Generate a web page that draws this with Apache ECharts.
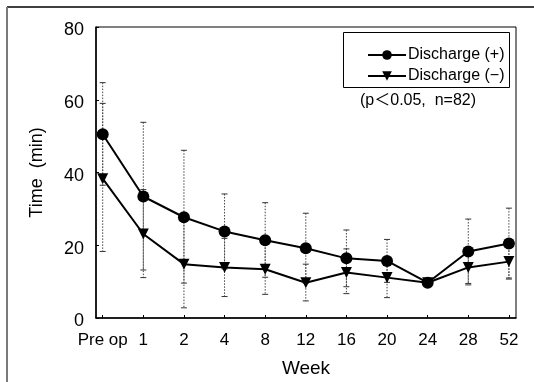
<!DOCTYPE html>
<html>
<head>
<meta charset="utf-8">
<script src="https://cdn.jsdelivr.net/npm/echarts@6/dist/echarts.min.js"></script>
<style>
html,body{margin:0;padding:0;background:#fff;}
#chart{width:534px;height:382px;}
</style>
</head>
<body>
<div id="chart"></div>
<script>
const categories = ['Pre op', '1', '2', '4', '8', '12', '16', '20', '24', '28', '52'];
const plusMean  = [50.5, 33.4, 27.7, 23.8, 21.4, 19.2, 16.4, 15.7, 9.7, 18.3, 20.5];
const minusMean = [38.3, 23.1, 14.8, 13.9, 13.4, 9.7, 12.5, 11.1, 9.7, 13.9, 15.5];
const plusHigh  = [64.7, 53.8, 46.1, 34.1, 31.7, 28.8, 24.2, 21.6, null, 27.2, 30.2];
const plusLow   = [36.5, 13.2, 9.6, 13.5, 11.2, 9.6, 8.6, 9.8, null, 9.1, 10.7];
const minusHigh = [59.0, 35.3, 26.5, 21.9, 20.3, 14.8, 19.0, 16.8, null, 18.5, 20.2];
const minusLow  = [18.3, 11.1, 2.8, 5.9, 6.5, 4.7, 6.7, 5.6, null, 9.5, 11.0];
const yTicks = [0, 20, 40, 60, 80];

const FONT = 'Liberation Sans';
const idx = categories.map((c, i) => i);

function pairs(vals) { return vals.map((v, i) => [i, v]); }
function errData(hi, lo) {
  const out = [];
  hi.forEach((h, i) => { if (h != null && lo[i] != null) out.push([i, h, lo[i]]); });
  return out;
}
function errRender(params, api) {
  const x = api.value(0);
  const top = api.coord([x, api.value(1)]);
  const bot = api.coord([x, api.value(2)]);
  const cw = 3;
  return {
    type: 'group',
    children: [
      { type: 'line', shape: { x1: top[0], y1: top[1], x2: bot[0], y2: bot[1] },
        style: { stroke: '#444', lineWidth: 1, lineDash: [1.5, 1.5] } },
      { type: 'line', shape: { x1: top[0] - cw, y1: top[1], x2: top[0] + cw, y2: top[1] },
        style: { stroke: '#333', lineWidth: 1 } },
      { type: 'line', shape: { x1: bot[0] - cw, y1: bot[1], x2: bot[0] + cw, y2: bot[1] },
        style: { stroke: '#333', lineWidth: 1 } }
    ]
  };
}

const chart = echarts.init(document.getElementById('chart'), null, { renderer: 'canvas' });
chart.setOption({
  animation: false,
  backgroundColor: '#fff',
  grid: { left: 96, right: 18, top: 27, bottom: 64, show: true, borderColor: '#000', borderWidth: 1,
          containLabel: false, outerBoundsMode: 'none' },
  xAxis: {
    type: 'value', min: -0.165, max: 10.175,
    name: 'Week', nameLocation: 'middle', nameGap: 41,
    nameTextStyle: { fontFamily: FONT, fontSize: 19, color: '#000' },
    splitLine: { show: false },
    axisLine: { show: true, onZero: false, lineStyle: { color: '#000', width: 1.5 } },
    axisTick: { show: true, inside: true, length: 3, customValues: idx, lineStyle: { color: '#000' } },
    axisLabel: { customValues: idx, formatter: v => categories[Math.round(v)], fontFamily: FONT, fontSize: 17, color: '#000', margin: 14 }
  },
  yAxis: {
    type: 'value', min: 0, max: 80, interval: 20,
    name: 'Time  (min)', nameLocation: 'middle', nameGap: 50, nameRotate: 90,
    nameTextStyle: { fontFamily: FONT, fontSize: 18, color: '#000' },
    splitLine: { show: false },
    axisLine: { show: true, onZero: false, lineStyle: { color: '#000', width: 1.5 } },
    axisTick: { show: true, inside: true, length: 3, lineStyle: { color: '#000' } },
    axisLabel: { color: '#000', margin: 12,
      formatter: v => yTicks.includes(v) ? '{t|' + v + '}' : '',
      rich: { t: { fontFamily: FONT, fontSize: 18, color: '#000', padding: [7, 0, 0, 0] } } }
  },
  legend: {
    left: 362, top: 40, orient: 'vertical', itemGap: 1, itemWidth: 38, itemHeight: 12,
    textStyle: { fontFamily: FONT, fontSize: 16, color: '#000', lineHeight: 20, padding: [0, 0, 0, -3] },
    data: ['Discharge (+)', 'Discharge (\u2212)']
  },
  graphic: [
    { type: 'line', shape: { x1: 7, y1: 7, x2: 534, y2: 7 }, style: { stroke: '#000', lineWidth: 1.5 } },
    { type: 'line', shape: { x1: 7, y1: 7, x2: 7, y2: 382 }, style: { stroke: '#7a7a7a', lineWidth: 2 } },
    { type: 'rect', shape: { x: 343.5, y: 32.5, width: 166, height: 55 }, style: { fill: 'none', stroke: '#000', lineWidth: 1 }, z: 10 },
    { type: 'text', left: 360, top: 93, style: { text: '(p\uFF1C0.05,  n=82)', font: '16px "Liberation Sans", "Noto Sans CJK JP"', fill: '#000' } }
  ],
  series: [
    { type: 'custom', name: 'errPlus', renderItem: errRender, data: errData(plusHigh, plusLow), z: 1, silent: true },
    { type: 'custom', name: 'errMinus', renderItem: errRender, data: errData(minusHigh, minusLow), z: 1, silent: true },
    { type: 'line', name: 'Discharge (+)', data: pairs(plusMean), symbol: 'circle', symbolSize: 12,
      itemStyle: { color: '#000' }, lineStyle: { color: '#000', width: 2 }, z: 5 },
    { type: 'line', name: 'Discharge (\u2212)', data: pairs(minusMean), symbol: 'triangle', symbolSize: 11, symbolRotate: 180,
      itemStyle: { color: '#000' }, lineStyle: { color: '#000', width: 2 }, z: 5 }
  ]
});
</script>
</body>
</html>
